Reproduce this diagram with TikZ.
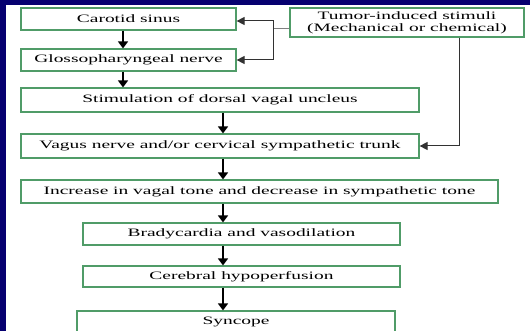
\documentclass[tikz,border=0pt]{standalone}
\usepackage{fontspec}
\setmainfont[FakeStretch=1.72]{Liberation Serif}
\definecolor{slideblue}{RGB}{6, 0, 112}
\definecolor{boxgreen}{RGB}{80, 156, 104}
\definecolor{linkgray}{RGB}{50, 50, 50}
\usetikzlibrary{arrows.meta, positioning, calc}

\begin{document}
\begin{tikzpicture}[
  x=1pt, y=-1pt,
  flowbox/.style={draw=boxgreen, line width=1.2pt, fill=white, inner sep=0pt, minimum height=22pt, align=center, font=\fontsize{11.3}{12}\selectfont},
  flow/.style={line width=2.3pt, -{Triangle[width=10pt, length=7pt]}},
  thinflow/.style={line width=1.5pt, -{Triangle[width=10pt, length=7pt]}},
  tumorlink/.style={draw=linkgray, line width=1pt},
  tumorarrow/.style={tumorlink, -{Triangle[width=8pt, length=8pt]}}
]
  % slide background
  \useasboundingbox (0,0) rectangle (530,331);
  \clip (0,0) rectangle (530,331);
  \fill[slideblue] (0,0) rectangle (530,331);
  \fill[white] (6,5) rectangle (530,331);

  % boxes
  \node[flowbox, minimum width=215pt] (carotid) at (128.5, 19) {Carotid sinus};
  \node[flowbox, minimum width=215pt] (gloss) at (128.5, 60) {Glossopharyngeal nerve};
  \node[flowbox, minimum width=398pt, minimum height=24pt] (dorsal) at (220, 100) {Stimulation of dorsal vagal uncleus};
  \node[flowbox, minimum width=398pt, minimum height=24pt] (vagus) at (220, 146) {Vagus nerve and/or cervical sympathetic trunk};
  \node[flowbox, minimum width=234pt, minimum height=29pt, font=\fontsize{11.3}{11.8}\selectfont] (tumor) at (407, 22.5) {Tumor-induced stimuli\\(Mechanical or chemical)};
  \node[flowbox, minimum width=477pt, minimum height=23pt] (tone) at (259.5, 191.5) {Increase in vagal tone and decrease in sympathetic tone};
  \node[flowbox, minimum width=317pt] (brady) at (241.5, 234) {Bradycardia and vasodilation};
  \node[flowbox, minimum width=317pt, minimum height=21pt] (hypo) at (241.5, 276.5) {Cerebral hypoperfusion};
  \node[flowbox, minimum width=318pt, minimum height=26pt, text depth=6pt] (syncope) at (236, 324) {Syncope};

  % arrow columns
  \coordinate (colA) at (123, 0);
  \coordinate (colB) at (223, 0);
  \coordinate (split) at (273, 29);

  \draw[thinflow] (carotid.south -| colA) -- (gloss.north -| colA);
  \draw[thinflow] (gloss.south -| colA) -- (dorsal.north -| colA);
  \draw[flow] (dorsal.south -| colB) -- (vagus.north -| colB);
  \draw[flow] (vagus.south -| colB) -- (tone.north -| colB);
  \draw[flow] (tone.south -| colB) -- (brady.north -| colB);
  \draw[flow] (brady.south -| colB) -- (hypo.north -| colB);
  \draw[flow] (hypo.south -| colB) -- (syncope.north -| colB);

  % tumor stimuli
  \draw[tumorlink, draw=gray] (tumor.west |- split) -- (split);
  \draw[tumorarrow] (split) |- ([yshift=-2pt]carotid.east);
  \draw[tumorarrow] (split) |- (gloss.east);
  \draw[tumorarrow] ([xshift=52pt]tumor.south) |- (vagus.east);
\end{tikzpicture}
\end{document}
